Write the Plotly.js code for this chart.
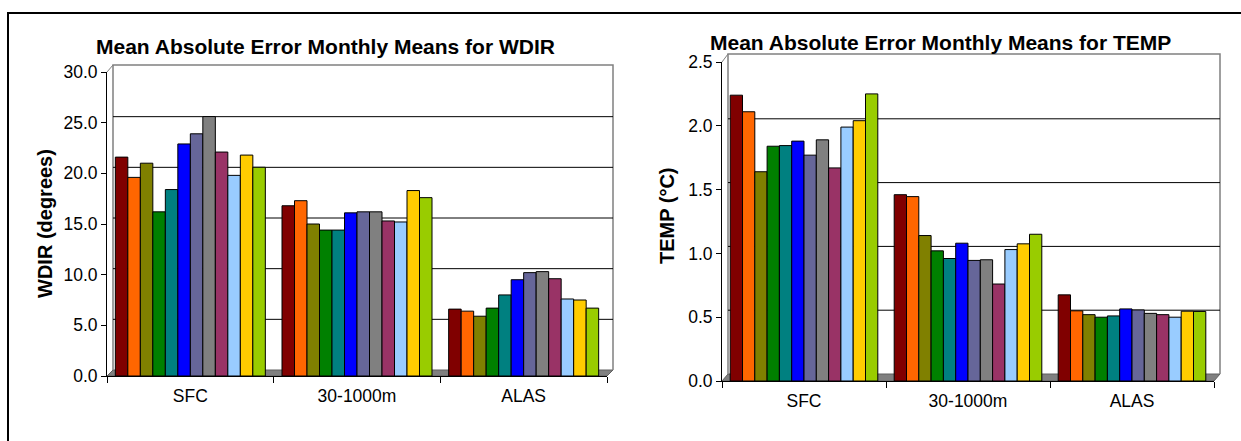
<!DOCTYPE html>
<html>
<head>
<meta charset="utf-8">
<script src="https://cdn.plot.ly/plotly-3.0.1.min.js"></script>
<style>html,body{margin:0;padding:0;background:#fff;}#chart{width:1241px;height:441px;}</style>
</head>
<body>
<div id="chart"></div>
<script>
// ---- data ----
const categories = ["SFC", "30-1000m", "ALAS"];
const months = ["M1","M2","M3","M4","M5","M6","M7","M8","M9","M10","M11","M12"];
const colors = ["#800000","#FF6600","#808000","#008000","#008080","#0000FF","#666699","#808080","#993366","#99CCFF","#FFCC00","#99CC00"];

const wdirSFC  = [21.6, 19.6, 21.0, 16.2, 18.4, 22.9, 23.9, 25.6, 22.1, 19.8, 21.8, 20.6];
const wdir30   = [16.8, 17.3, 15.0, 14.4, 14.4, 16.1, 16.2, 16.2, 15.3, 15.2, 18.3, 17.6];
const wdirALAS = [6.6, 6.4, 5.9, 6.7, 8.0, 9.5, 10.2, 10.3, 9.6, 7.6, 7.5, 6.7];

const tempSFC  = [2.24, 2.11, 1.64, 1.84, 1.845, 1.88, 1.77, 1.89, 1.67, 1.99, 2.04, 2.25];
const temp30   = [1.46, 1.445, 1.14, 1.02, 0.96, 1.08, 0.945, 0.95, 0.76, 1.03, 1.075, 1.15];
const tempALAS = [0.675, 0.55, 0.52, 0.50, 0.51, 0.565, 0.557, 0.53, 0.52, 0.50, 0.547, 0.545];

const wdirTicks = [0, 5, 10, 15, 20, 25, 30];
const tempTicks = [0, 0.5, 1.0, 1.5, 2.0, 2.5];

// ---- layout helpers ----
const W = 1241, H = 441;
const px = p => p / W;
const py = p => 1 - p / H;
const FONT = "Liberation Sans, Arial, sans-serif";

const traces = [];
months.forEach((m, i) => {
  traces.push({
    type: "bar", name: m, x: categories,
    y: [wdirSFC[i], wdir30[i], wdirALAS[i]],
    marker: {color: colors[i], line: {color: "#000", width: 1}},
    xaxis: "x", yaxis: "y", showlegend: false, hoverinfo: "y"
  });
});
months.forEach((m, i) => {
  traces.push({
    type: "bar", name: m, x: categories,
    y: [tempSFC[i], temp30[i], tempALAS[i]],
    marker: {color: colors[i], line: {color: "#000", width: 1}},
    xaxis: "x2", yaxis: "y2", showlegend: false, hoverinfo: "y"
  });
});

// plot frames (pixels)
const L = {x0: 107, x1: 607, yb: 376, yt: 72, dx: 6, dy: 6};
const R = {x0: 722, x1: 1214, yb: 381, yt: 62, dx: 6, dy: 7};

const shapes = [];
function decor(F, yref, ticks) {
  // floor
  shapes.push({type: "path", xref: "paper", yref: "paper", layer: "below",
    path: `M ${px(F.x0)} ${py(F.yb)} L ${px(F.x1)} ${py(F.yb)} L ${px(F.x1 + F.dx)} ${py(F.yb - F.dy)} L ${px(F.x0 + F.dx)} ${py(F.yb - F.dy)} Z`,
    fillcolor: "#808080", line: {color: "#606060", width: 1}});
  // back wall outline
  shapes.push({type: "path", xref: "paper", yref: "paper", layer: "below",
    path: `M ${px(F.x0 + F.dx)} ${py(F.yb - F.dy)} L ${px(F.x0 + F.dx)} ${py(F.yt - F.dy - 1)} L ${px(F.x1 + F.dx)} ${py(F.yt - F.dy - 1)} L ${px(F.x1 + F.dx)} ${py(F.yb - F.dy)}`,
    line: {color: "#808080", width: 1.5}});
  // left side wall edge
  shapes.push({type: "line", xref: "paper", yref: "paper", layer: "below",
    x0: px(F.x0), y0: py(F.yt), x1: px(F.x0 + F.dx), y1: py(F.yt - F.dy - 1),
    line: {color: "#808080", width: 1}});
  // gridlines on back wall
  ticks.slice(1, -1).forEach(v => {
    shapes.push({type: "line", xref: "paper", yref: yref, layer: "below",
      ysizemode: "pixel", yanchor: v, y0: F.dy, y1: F.dy,
      x0: px(F.x0 + F.dx), x1: px(F.x1 + F.dx),
      line: {color: "#000", width: 1}});
  });
}
decor(L, "y", wdirTicks);
decor(R, "y2", tempTicks);

// outer border
shapes.push({type: "rect", xref: "paper", yref: "paper", layer: "above",
  x0: px(8), y0: py(460), x1: px(1260), y1: py(13), line: {color: "#000", width: 2}});

const axisCommon = {
  showline: true, linecolor: "#000", linewidth: 1, ticks: "outside", tickcolor: "#000",
  tickfont: {family: FONT, size: 17.5, color: "#000"}, showgrid: false, zeroline: false, fixedrange: true
};

const layout = {
  width: W, height: H,
  margin: {l: 0, r: 0, t: 0, b: 0},
  paper_bgcolor: "#fff", plot_bgcolor: "rgba(0,0,0,0)",
  barmode: "group", bargap: 0.1, bargroupgap: 0,
  showlegend: false,
  font: {family: FONT, color: "#000"},
  xaxis: Object.assign({}, axisCommon, {domain: [px(L.x0), px(L.x1)], anchor: "y", tickson: "boundaries", ticklen: 6, ticklabelstandoff: 4}),
  yaxis: Object.assign({}, axisCommon, {domain: [py(L.yb), py(L.yt)], anchor: "x", range: [0, 30],
    tickvals: wdirTicks, tickformat: ".1f", ticklen: 5}),
  xaxis2: Object.assign({}, axisCommon, {domain: [px(R.x0), px(R.x1)], anchor: "y2", tickson: "boundaries", ticklen: 6, ticklabelstandoff: 4}),
  yaxis2: Object.assign({}, axisCommon, {domain: [py(R.yb), py(R.yt)], anchor: "x2", range: [0, 2.5],
    tickvals: tempTicks, tickformat: ".1f", ticklen: 5}),
  shapes: shapes,
  annotations: [
    {text: "<b>Mean Absolute Error Monthly Means for WDIR</b>", xref: "paper", yref: "paper",
     x: px(325), y: py(47), xanchor: "center", yanchor: "middle", showarrow: false,
     font: {family: FONT, size: 21, color: "#000"}},
    {text: "<b>Mean Absolute Error Monthly Means for TEMP</b>", xref: "paper", yref: "paper",
     x: px(940), y: py(42), xanchor: "center", yanchor: "middle", showarrow: false,
     font: {family: FONT, size: 21, color: "#000"}},
    {text: "<b>WDIR (degrees)</b>", xref: "paper", yref: "paper", textangle: -90,
     x: px(45), y: py(224), xanchor: "center", yanchor: "middle", showarrow: false,
     font: {family: FONT, size: 20, color: "#000"}},
    {text: "<b>TEMP (°C)</b>", xref: "paper", yref: "paper", textangle: -90,
     x: px(667), y: py(216), xanchor: "center", yanchor: "middle", showarrow: false,
     font: {family: FONT, size: 20, color: "#000"}}
  ]
};

Plotly.newPlot("chart", traces, layout, {displayModeBar: false, staticPlot: true});
</script>
</body>
</html>
